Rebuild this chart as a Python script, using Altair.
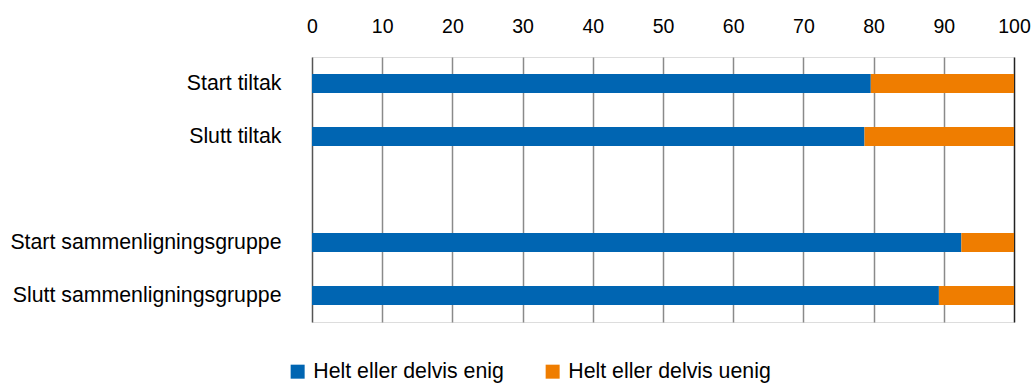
import altair as alt
import pandas as pd

# Survey responses, percent per group
categories = ["Start tiltak", "Slutt tiltak", " ", "Start sammenligningsgruppe", "Slutt sammenligningsgruppe"]
groups = ["Start tiltak", "Slutt tiltak", "Start sammenligningsgruppe", "Slutt sammenligningsgruppe"]
enig = [79.6, 78.7, 92.5, 89.3]
uenig = [20.4, 21.3, 7.5, 10.7]
series = ["Helt eller delvis enig", "Helt eller delvis uenig"]
colors = ["#0065B2", "#EF7D00"]
ticks = list(range(0, 101, 10))

rows = []
for g, a, b in zip(groups, enig, uenig):
    rows.append({"gruppe": g, "svar": series[0], "andel": a, "rekkefolge": 0})
    rows.append({"gruppe": g, "svar": series[1], "andel": b, "rekkefolge": 1})
df = pd.DataFrame(rows)

font = "Liberation Sans"
fs = 21.3

chart = (
    alt.Chart(df)
    .mark_bar(size=19)
    .encode(
        x=alt.X(
            "andel:Q",
            stack="zero",
            scale=alt.Scale(domain=[0, 100], nice=False),
            axis=alt.Axis(
                orient="top",
                values=ticks,
                title=None,
                domain=False,
                ticks=False,
                labelPadding=21,
                labelFlush=False,
                labelOverlap=False,
                labelFontSize=19.5,
                labelColor="black",
                labelFont=font,
                grid=True,
                gridColor={
                    "condition": [
                        {"test": "datum.value === 100", "value": "#222222"},
                        {"test": "datum.value === 0", "value": "#555555"},
                    ],
                    "value": "#8a8a8a",
                },
                gridWidth=1.5,
                gridOpacity=1,
            ),
        ),
        y=alt.Y(
            "gruppe:N",
            sort=categories,
            scale=alt.Scale(domain=categories, paddingInner=0, paddingOuter=0),
            axis=alt.Axis(
                title=None,
                domain=False,
                ticks=False,
                labelPadding=31,
                labelLimit=0,
                labelFontSize=fs,
                labelColor="black",
                labelFont=font,
            ),
        ),
        color=alt.Color(
            "svar:N",
            scale=alt.Scale(domain=series, range=colors),
            legend=alt.Legend(
                title=None,
                orient="none",
                direction="horizontal",
                legendX=-25,
                legendY=304,
                symbolType="square",
                symbolSize=196,
                symbolStrokeWidth=0,
                symbolOpacity=1,
                labelFontSize=fs,
                labelFont=font,
                labelColor="black",
                labelLimit=0,
                labelOffset=5,
                columnPadding=38,
            ),
        ),
        order=alt.Order("rekkefolge:Q"),
    )
    .properties(
        width=702,
        height=265,
        padding={"left": 312, "top": 57, "right": 19, "bottom": 63},
        autosize=alt.AutoSizeParams(type="none"),
    )
    .configure_view(stroke=None)
    .configure(background="white")
)

chart.save("out.html", embed_options={"renderer": "svg", "actions": False})
